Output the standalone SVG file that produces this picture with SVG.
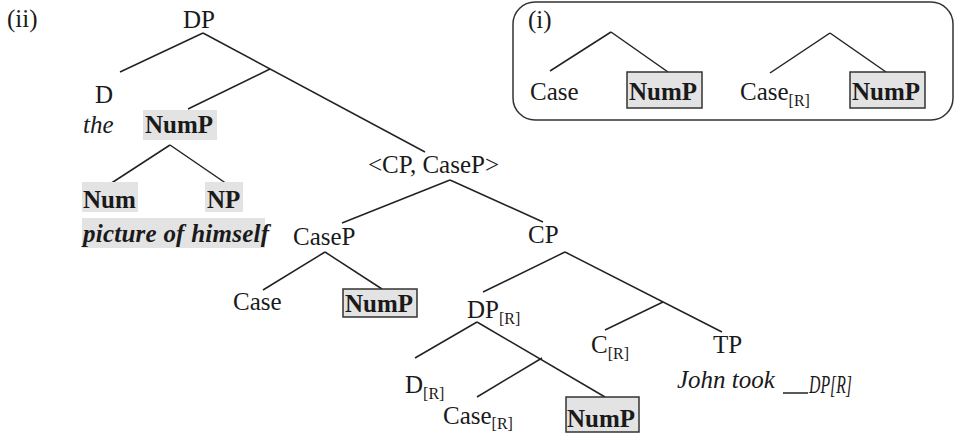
<svg xmlns="http://www.w3.org/2000/svg" width="956" height="434" viewBox="0 0 956 434">
<style>
text{font-family:"Liberation Serif","Times New Roman",serif;font-size:25px;fill:#1a1a1a}
.b{font-weight:bold}
.i{font-style:italic}
.sub{font-size:16px}
.hl{fill:#e3e3e3}
.bx{fill:#e3e3e3;stroke:#333;stroke-width:1.5}
#connectors line{stroke:#222;stroke-width:1.5}
</style>
<rect width="956" height="434" fill="#fff"/>
<g id="connectors">
<line x1="203" y1="33" x2="120" y2="72"/>
<line x1="203" y1="33" x2="425" y2="152"/>
<line x1="270" y1="69" x2="188" y2="109"/>
<line x1="170" y1="145" x2="110" y2="184"/>
<line x1="170" y1="145" x2="227" y2="184"/>
<line x1="450" y1="180" x2="342" y2="223"/>
<line x1="450" y1="180" x2="543" y2="222"/>
<line x1="325" y1="252" x2="263" y2="290"/>
<line x1="325" y1="252" x2="382" y2="289"/>
<line x1="565" y1="252" x2="483" y2="292"/>
<line x1="565" y1="252" x2="722" y2="332"/>
<line x1="663" y1="302" x2="605" y2="330"/>
<line x1="477" y1="322" x2="415" y2="358"/>
<line x1="477" y1="322" x2="605" y2="397"/>
<line x1="542" y1="358" x2="477" y2="397"/>
<line x1="611" y1="32" x2="550" y2="71"/>
<line x1="611" y1="32" x2="668" y2="72"/>
<line x1="830" y1="33" x2="770" y2="73"/>
<line x1="830" y1="33" x2="886" y2="72"/>
<line x1="783" y1="393" x2="808" y2="393"/>
</g>
<g id="label-ii"><text x="7" y="27">(ii)</text></g>
<g id="DP"><text x="183" y="28">DP</text></g>
<g id="D"><text x="95" y="103">D</text><text class="i" x="83" y="133">the</text></g>
<g id="NumP-top"><rect class="hl" x="143" y="110" width="74" height="30"/><text class="b" x="145" y="133">NumP</text></g>
<g id="Num"><rect class="hl" x="82" y="182" width="56" height="30"/><text class="b" x="83" y="208">Num</text></g>
<g id="NP"><rect class="hl" x="205" y="182" width="38" height="30"/><text class="b" x="207" y="208">NP</text></g>
<g id="picture"><rect class="hl" x="82" y="218" width="183" height="30"/><text class="b i" x="83" y="242" textLength="186" lengthAdjust="spacing">picture of himself</text></g>
<g id="CP-CaseP"><text x="368" y="173">&lt;CP, CaseP&gt;</text></g>
<g id="CaseP"><text x="293" y="245">CaseP</text></g>
<g id="Case"><text x="233" y="310">Case</text></g>
<g id="NumP-mid"><rect class="bx" x="343" y="289" width="74" height="28"/><text class="b" x="345" y="312">NumP</text></g>
<g id="CP"><text x="528" y="243">CP</text></g>
<g id="DPR"><text x="467" y="318">DP<tspan class="sub" dy="6">[R]</tspan></text></g>
<g id="CR"><text x="591" y="353">C<tspan class="sub" dy="6">[R]</tspan></text></g>
<g id="TP"><text x="713" y="353">TP</text><text class="i" x="677" y="388">John took</text><text class="i" x="809" y="393" font-size="14" textLength="43" lengthAdjust="spacingAndGlyphs">DP[R]</text></g>
<g id="DR"><text x="405" y="393">D<tspan class="sub" dy="6">[R]</tspan></text></g>
<g id="CaseR"><text x="443" y="424">Case<tspan class="sub" dy="5">[R]</tspan></text></g>
<g id="NumP-bot"><rect class="bx" x="566" y="397" width="73" height="35"/><text class="b" x="567" y="427">NumP</text></g>
<g id="box-i">
<rect x="513" y="2" width="440" height="118" rx="22" fill="none" stroke="#333" stroke-width="1.5"/>
<text x="528" y="28">(i)</text>
<text x="530" y="100">Case</text>
<rect class="bx" x="627" y="72" width="75" height="36"/><text class="b" x="629" y="100">NumP</text>
<text x="740" y="100">Case<tspan class="sub" dy="6">[R]</tspan></text>
<rect class="bx" x="850" y="72" width="75" height="36"/><text class="b" x="852" y="100">NumP</text>
</g>
</svg>
